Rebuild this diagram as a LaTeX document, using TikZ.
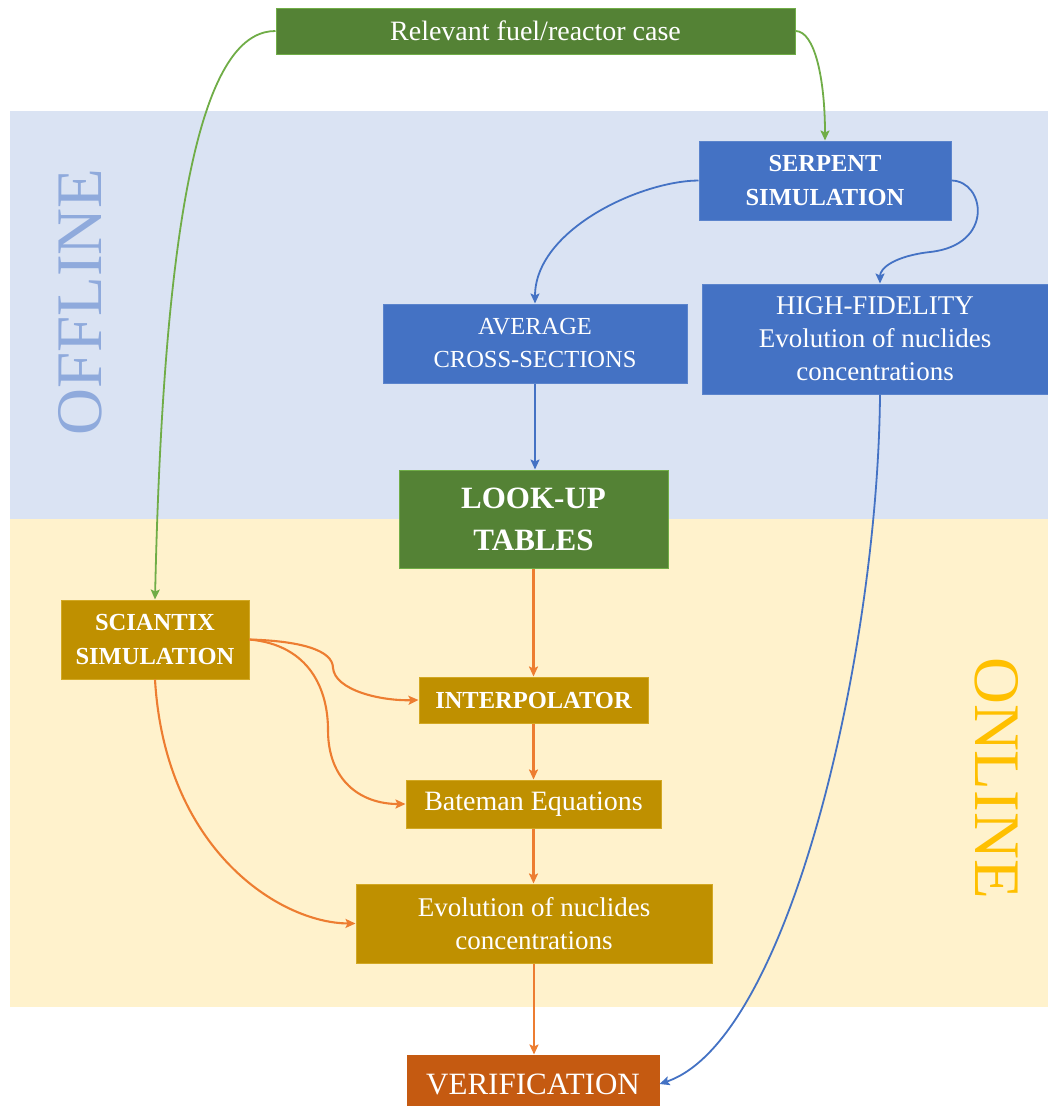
\documentclass[tikz,border=0pt]{standalone}
\usepackage{fontspec}
\setmainfont{Liberation Serif}
\usetikzlibrary{arrows.meta}
\definecolor{bandblue}{HTML}{DAE3F3}
\definecolor{bandyellow}{HTML}{FFF2CC}
\definecolor{boxgreen}{HTML}{548235}
\definecolor{linegreen}{HTML}{70AD47}
\definecolor{boxblue}{HTML}{4472C4}
\definecolor{boxblueedge}{HTML}{5B84CC}
\definecolor{boxgold}{HTML}{BF9000}
\definecolor{boxgoldedge}{HTML}{D2A824}
\definecolor{boxrust}{HTML}{C55A11}
\definecolor{lineorange}{HTML}{ED7D31}
\definecolor{offblue}{HTML}{8FAADC}
\definecolor{ongold}{HTML}{FFC000}
\begin{document}
\begin{tikzpicture}[x=1pt,y=-1pt,
  box/.style={rectangle, inner sep=0pt, align=center, text=white, line width=1pt},
  greenbox/.style={box, fill=boxgreen, draw=linegreen},
  bluebox/.style={box, fill=boxblue, draw=boxblueedge},
  goldbox/.style={box, fill=boxgold, draw=boxgoldedge},
  rustbox/.style={box, fill=boxrust, draw=boxrust},
  sz/.style 2 args={minimum width=#1pt, minimum height=#2pt},
  tip/.style={-{Stealth[length=10pt,width=9pt,inset=2pt]}},
  gline/.style={tip, draw=linegreen, line width=1.8pt},
  bline/.style={tip, draw=boxblue, line width=1.8pt},
  oline/.style={tip, draw=lineorange, line width=2.1pt},
  zone/.style={inner sep=0pt}
]
\useasboundingbox (0,0) rectangle (1048,1106);
\clip (0,0) rectangle (1048,1106);
\fill[white] (0,0) rectangle (1048,1106);
% bands
\fill[bandblue] (10,111) rectangle (1048,519);
\fill[bandyellow] (10,519) rectangle (1048,1007);
\node[zone, rotate=90, text=offblue, font=\fontsize{65}{65}\selectfont] (offl) at (80,302) {OFFLINE};
\node[zone, rotate=-90, text=ongold, font=\fontsize{65}{65}\selectfont] (onl) at (997,778) {ONLINE};

% nodes
\node[greenbox, sz={519}{46}, font=\fontsize{28}{33}\selectfont] (case) at (535.5,31) {Relevant fuel/reactor case};
\node[bluebox, sz={252}{79}, font=\bfseries\fontsize{24.5}{34}\selectfont] (serp) at (825,180.5) {SERPENT\\SIMULATION};
\node[bluebox, sz={304}{79}, font=\fontsize{24.5}{33}\selectfont] (avg) at (535,343.5) {AVERAGE\\CROSS-SECTIONS};
\node[bluebox, sz={346}{110}, font=\fontsize{27}{33}\selectfont] (hifi) at (875,339) {HIGH-FIDELITY\\Evolution of nuclides\\concentrations};
\node[greenbox, sz={269}{98}, font=\bfseries\fontsize{31}{42}\selectfont] (lut) at (533.5,519) {LOOK-UP\\TABLES};
\node[goldbox, sz={188}{79}, font=\bfseries\fontsize{24.5}{34}\selectfont] (sci) at (155,639.5) {SCIANTIX\\SIMULATION};
\node[goldbox, sz={229}{46}, font=\bfseries\fontsize{24.5}{30}\selectfont] (interp) at (533.5,700) {INTERPOLATOR};
\node[goldbox, sz={255}{48}, font=\fontsize{28}{33}\selectfont] (bate) at (533.5,804) {Bateman Equations};
\node[goldbox, sz={356}{79}, font=\fontsize{27}{33}\selectfont] (evol) at (534,923.5) {Evolution of nuclides\\concentrations};
\node[rustbox, sz={252}{58}, font=\fontsize{31}{36}\selectfont] (verif) at (533,1084) {VERIFICATION};

% green connectors
\draw[gline] (case.west) .. controls (215,31) and (165,150) .. (sci.north);
\draw[gline] (case.east) .. controls (815,31) and (825,80) .. (serp.north);

% blue connectors
\draw[bline] (serp.west) .. controls (640,181) and (535,230) .. (avg.north);
\draw[bline] (serp.east) .. controls (985,181) and (995,245) .. (930,252)
   .. controls (895,256) and (880,268) .. ([xshift=5pt]hifi.north);
\draw[bline] (avg.south) -- (avg.south |- lut.north);
\draw[bline] ([xshift=5pt]hifi.south) .. controls (878,650) and (790,1040) .. (verif.east);

% orange connectors
\draw[oline] (lut.south) -- (lut.south |- interp.north);
\draw[oline] (interp.south) -- (interp.south |- bate.north);
\draw[oline] (bate.south) -- (bate.south |- evol.north);
\draw[oline] (evol.south) -- (evol.south |- verif.north);
\draw[oline] (sci.east) .. controls (300,641) and (333,650) .. (333,668)
   .. controls (335,690) and (380,701) .. (interp.west);
\draw[oline] (sci.east) .. controls (310,645) and (328,690) .. (328,730)
   .. controls (328,780) and (360,804) .. (bate.west);
\draw[oline] (sci.south) .. controls (165,850) and (280,923) .. (evol.west);
\end{tikzpicture}
\end{document}
